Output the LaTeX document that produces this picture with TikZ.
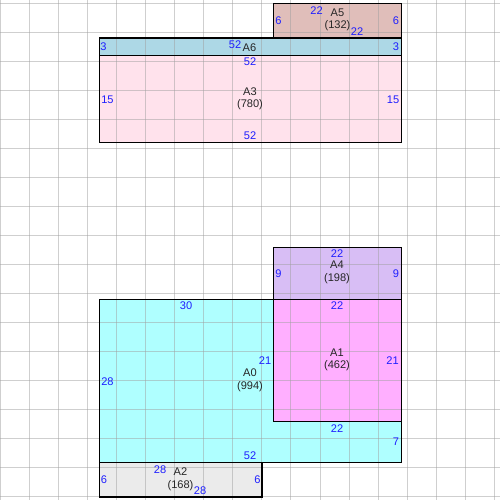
\documentclass[tikz,border=0pt]{standalone}
\usepackage{fontspec}
\setmainfont{Liberation Sans}
\definecolor{cAfive}{RGB}{224,190,186}
\definecolor{cAsix}{RGB}{173,216,230}
\definecolor{cAthree}{RGB}{255,226,236}
\definecolor{cAfour}{RGB}{216,190,245}
\definecolor{cAone}{RGB}{255,175,255}
\definecolor{cAzero}{RGB}{175,255,255}
\definecolor{cAtwo}{RGB}{235,235,235}
\definecolor{gridc}{RGB}{160,160,160}
\definecolor{numc}{RGB}{30,30,255}
\begin{document}
\begin{tikzpicture}[x=0.02cm,y=-0.02cm,
  gridline/.style={draw=gridc,draw opacity=0.5,line width=0.02cm},
  box/.style={draw=black,line width=0.026cm},
  num/.style={text=numc,inner sep=0pt,font=\fontsize{6.3}{7.2}\selectfont},
  nm/.style={text=black!85,inner sep=0pt,align=center,font=\fontsize{6.3}{7.1}\selectfont}]
\useasboundingbox (0,0) rectangle (500,500);
% fills
\fill[cAfive] (273.5,3.3) rectangle (401.3,38.1);
\fill[cAsix] (99.3,38.1) rectangle (401.3,55.5);
\fill[cAthree] (99.3,55.5) rectangle (401.3,142.6);
\fill[cAfour] (273.5,247.3) rectangle (401.3,299.6);
\fill[cAzero] (99.3,299.6) rectangle (401.3,462.2);
\fill[cAone] (273.5,299.6) rectangle (401.3,421.6);
\fill[cAtwo] (99.3,462.2) rectangle (261.9,497.0);
% grid
\foreach \k in {0,...,17} {
  \draw[gridline] ({0.56+29.04*\k},0) -- ({0.56+29.04*\k},500);
  \draw[gridline] (0,{3.3+29.04*\k}) -- (500,{3.3+29.04*\k});
}
% borders
\draw[box] (273.5,3.3) rectangle (401.3,38.1);
\draw[box] (99.3,38.1) rectangle (401.3,55.5);
\draw[box] (99.3,55.5) rectangle (401.3,142.6);
\draw[box] (273.5,247.3) rectangle (401.3,299.6);
\draw[box] (99.3,299.6) rectangle (401.3,462.2);
\draw[box] (273.5,299.6) rectangle (401.3,421.6);
\draw[box] (99.3,462.2) rectangle (261.9,497.0);
% A5
\node[num] (a5t) at (316.5,10.5) {22};
\node[nm] (a5) at (337.5,20) {A5\\(132)};
\node[num] (a5b) at (357,32) {22};
\node[num] (a5l) at (278.5,21) {6};
\node[num] (a5r) at (396,21) {6};
% A6
\node[num] (a6l) at (103.5,47) {3};
\node[num] (a6t) at (235,45) {52};
\node[nm] (a6) at (249.5,47.5) {A6};
\node[num] (a6r) at (396,47) {3};
% A3
\node[num] (a3t) at (250,62) {52};
\node[nm] (a3) at (250,99) {A3\\(780)};
\node[num] (a3l) at (107.5,100) {15};
\node[num] (a3r) at (393,100) {15};
\node[num] (a3b) at (250,136) {52};
% A4
\node[num] (a4t) at (337,254) {22};
\node[nm] (a4) at (337,272.5) {A4\\(198)};
\node[num] (a4l) at (278.5,273.5) {9};
\node[num] (a4r) at (396,273.5) {9};
% A1
\node[num] (a1t) at (337,306) {22};
\node[nm] (a1) at (337,360) {A1\\(462)};
\node[num] (a1r) at (392.5,361) {21};
\node[num] (a1b) at (337,428.5) {22};
% A0
\node[num] (a0t) at (186,306) {30};
\node[num] (a0l) at (107.5,382) {28};
\node[nm] (a0) at (250,380.5) {A0\\(994)};
\node[num] (a0m) at (265,361) {21};
\node[num] (a0r) at (396,442) {7};
\node[num] (a0b) at (250,456) {52};
% A2
\node[num] (a2t) at (160,469.5) {28};
\node[nm] (a2) at (180.5,479.5) {A2\\(168)};
\node[num] (a2b) at (200,491) {28};
\node[num] (a2l) at (104,480) {6};
\node[num] (a2r) at (257.5,480) {6};
\end{tikzpicture}
\end{document}
